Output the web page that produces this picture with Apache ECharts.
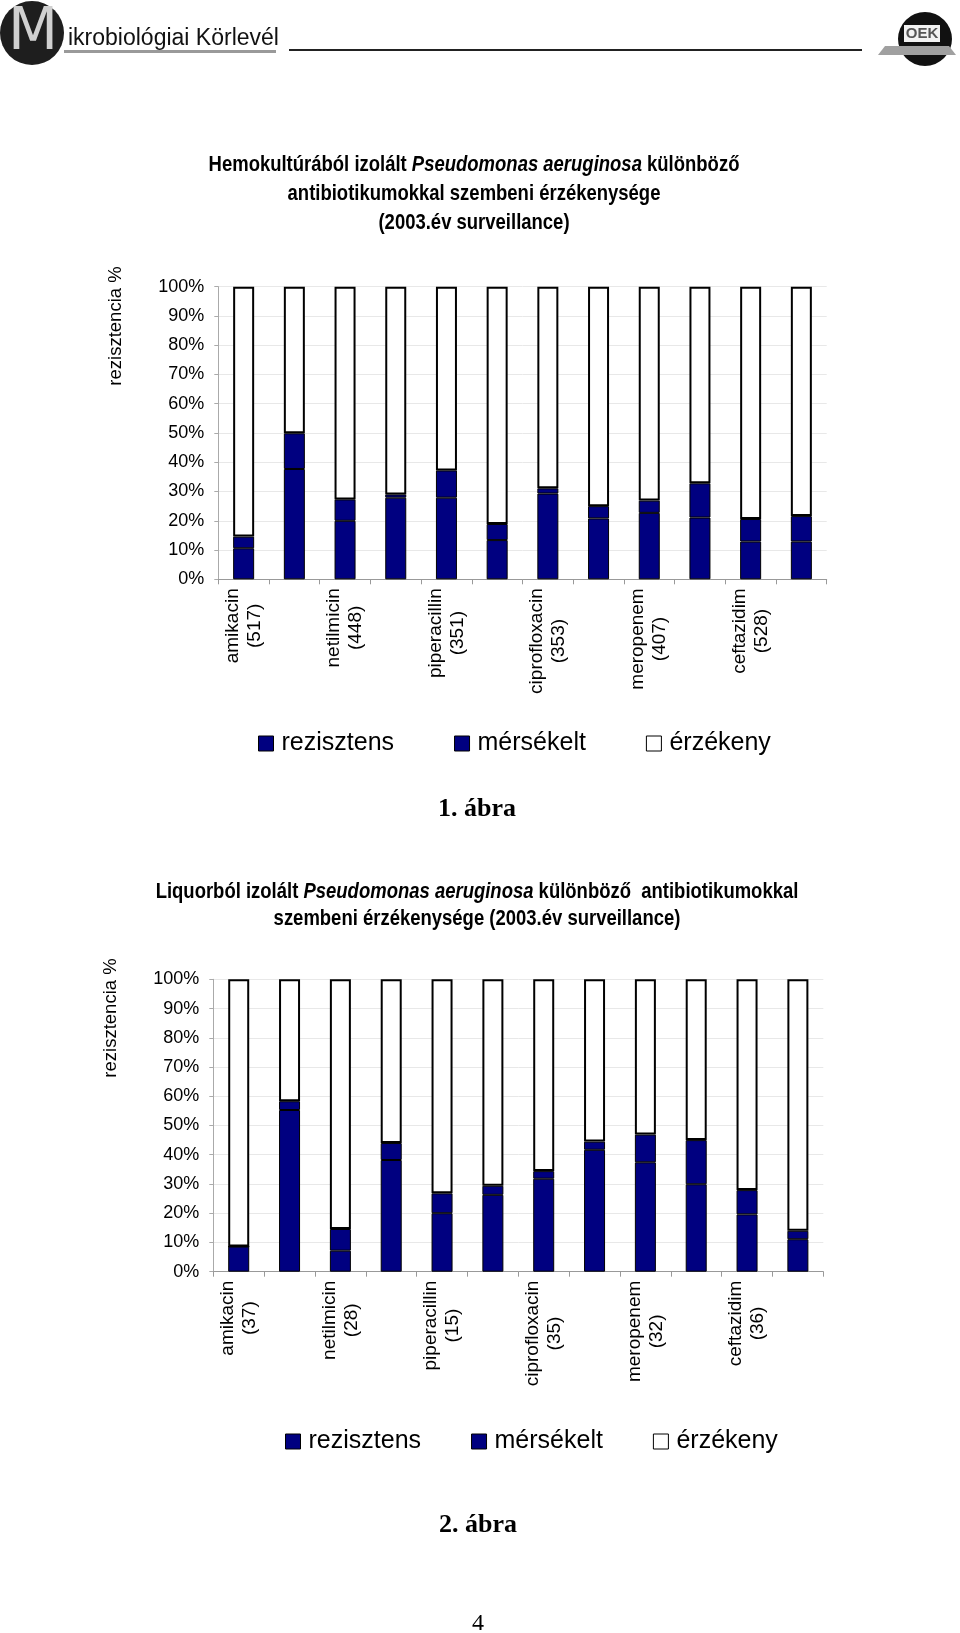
<!DOCTYPE html>
<html>
<head>
<meta charset="utf-8">
<script src="https://cdn.jsdelivr.net/npm/echarts@6.0.0/dist/echarts.min.js"></script>
<style>
  html, body { margin: 0; padding: 0; background: #fff; }
  #main { width: 960px; height: 1633px; }
</style>
</head>
<body>
<div id="main"></div>
<script>
// antibiotikumok (minden második felirat rejtve, mint az eredetin)
var names = ['amikacin', '', 'netilmicin', '', 'piperacillin', '', 'ciprofloxacin', '', 'meropenem', '', 'ceftazidim', ''];

// 1. ábra - hemokultúra
var counts1 = [517, null, 448, null, 351, null, 353, null, 407, null, 528, null];
var rez1  = [10.6, 37.7, 20.0, 27.9, 27.9, 13.4, 29.3, 20.8, 22.7, 21.1, 12.9, 12.9];
var mers1 = [4.0, 12.2, 7.3, 1.1, 9.3, 5.5, 1.8, 4.2, 4.2, 11.7, 7.7, 8.7];
var erz1  = [85.4, 50.1, 72.7, 71.0, 62.8, 81.1, 68.9, 75.0, 73.1, 67.2, 79.4, 78.4];

// 2. ábra - liquor
var counts2 = [37, null, 28, null, 15, null, 35, null, 32, null, 36, null];
var rez2  = [8.6, 55.3, 7.2, 38.2, 20.0, 26.3, 31.8, 41.7, 37.4, 29.9, 19.6, 11.1];
var mers2 = [0, 3.0, 7.4, 5.8, 6.8, 3.1, 2.6, 2.8, 9.5, 15.1, 8.3, 2.9];
var erz2  = [91.4, 41.7, 85.4, 56.0, 73.2, 70.6, 65.6, 55.5, 53.1, 55.0, 72.1, 86.0];

var legendNames = ['rezisztens', 'mérsékelt', 'érzékeny'];

var title1 = 'Hemokultúrából izolált {i|Pseudomonas aeruginosa} különböző\nantibiotikumokkal szembeni érzékenysége\n(2003.év surveillance)';
var title2 = 'Liquorból izolált {i|Pseudomonas aeruginosa} különböző  antibiotikumokkal\nszembeni érzékenysége (2003.év surveillance)';

var sans = "'Liberation Sans', Arial, sans-serif";
var navy = '#000080';

function catLabels(counts) {
  return names.map(function (n, i) { return n ? n + '\n(' + counts[i] + ')' : ''; });
}

function xAxisOf(gi, counts) {
  return {
    type: 'category', gridIndex: gi, data: catLabels(counts),
    axisLine: { lineStyle: { color: '#999', width: 1 } },
    axisTick: { show: true, length: 5, lineStyle: { color: '#999' } },
    axisLabel: {
      interval: 0, rotate: 90, align: 'right', verticalAlign: 'middle', margin: 9,
      fontFamily: sans, fontSize: 19, lineHeight: 22, color: '#000',
      formatter: function (v) {
        if (!v) return '';
        return v.split('\n').map(function (l) { return '{c|' + l + '}'; }).join('\n');
      },
      rich: { c: { align: 'center', fontFamily: sans, fontSize: 19, lineHeight: 22, color: '#000' } }
    },
    splitLine: { show: false }
  };
}

function yAxisOf(gi) {
  return {
    type: 'value', gridIndex: gi, min: 0, max: 100, interval: 10,
    axisLine: { show: true, lineStyle: { color: '#aaa' } },
    axisTick: { show: true, length: 4, lineStyle: { color: '#aaa' } },
    axisLabel: { formatter: '{value}%', fontFamily: sans, fontSize: 18, color: '#000', margin: 14 },
    splitLine: { show: true, lineStyle: { color: '#e8e8e8', width: 1 } }
  };
}

function barsOf(gi, rez, mers, erz) {
  var base = { type: 'bar', xAxisIndex: gi, yAxisIndex: gi, stack: 's' + gi, barWidth: 21 };
  return [
    Object.assign({ name: 'rezisztens', data: rez, itemStyle: { color: navy, borderColor: '#000', borderWidth: 1 } }, base),
    Object.assign({ name: 'mérsékelt', data: mers, itemStyle: { color: navy, borderColor: '#000', borderWidth: 1 } }, base),
    Object.assign({ name: 'érzékeny', data: erz, itemStyle: { color: '#fff', borderColor: '#000', borderWidth: 2 } }, base)
  ];
}

function legendOf(left, top, gap) {
  return {
    data: legendNames, left: left, top: top, padding: 0, icon: 'rect', itemWidth: 15, itemHeight: 15, itemGap: gap,
    selectedMode: false,
    itemStyle: { borderColor: '#000', borderWidth: 1 },
    textStyle: { fontFamily: sans, fontSize: 25, color: '#000', padding: [0, 0, 0, 3] }
  };
}

var chart = echarts.init(document.getElementById('main'));
chart.setOption({
  animation: false,
  backgroundColor: '#fff',
  grid: [
    { left: 218.3, top: 286.7, width: 608.4, height: 292.6, outerBoundsMode: 'none' },
    { left: 213.3, top: 979.3, width: 610, height: 292.4, outerBoundsMode: 'none' }
  ],
  xAxis: [xAxisOf(0, counts1), xAxisOf(1, counts2)],
  yAxis: [yAxisOf(0), yAxisOf(1)],
  legend: [legendOf(258, 731, 60), legendOf(285, 1429, 50)],
  series: barsOf(0, rez1, mers1, erz1).concat(barsOf(1, rez2, mers2, erz2)),
  graphic: [
    // fejléc
    { type: 'circle', shape: { cx: 32, cy: 33, r: 32 }, style: { fill: '#1e1e1e' } },
    { type: 'text', x: 33, y: 34, style: { text: 'M', font: '58px "DejaVu Sans"', fill: '#d0d0d0', align: 'center', verticalAlign: 'middle' } },
    { type: 'text', x: 68, y: 39, style: { text: 'ikrobiológiai Körlevél', font: '23px "Liberation Sans"', fill: '#111', align: 'left', verticalAlign: 'middle' } },
    { type: 'rect', shape: { x: 64, y: 50, width: 212, height: 3 }, style: { fill: '#9a9a9a' } },
    { type: 'line', shape: { x1: 289, y1: 50, x2: 862, y2: 50 }, style: { stroke: '#222', lineWidth: 2 } },
    { type: 'circle', shape: { cx: 925, cy: 39, r: 27 }, style: { fill: '#111' } },
    { type: 'rect', shape: { x: 904, y: 25, width: 36, height: 17 }, style: { fill: '#f2f2f2' } },
    { type: 'text', x: 922, y: 34, style: { text: 'OEK', font: 'bold 15px "Liberation Sans"', fill: '#555', align: 'center', verticalAlign: 'middle' } },
    { type: 'polygon', shape: { points: [[878, 55], [956, 55], [949, 46], [885, 46]] }, style: { fill: '#a0a0a0' } },
    // címek
    { type: 'text', x: 474, y: 151, scaleX: 0.84, style: {
        text: title1, font: 'bold 22px "Liberation Sans"', lineHeight: 28.7, align: 'center', verticalAlign: 'top', fill: '#000',
        rich: { i: { font: 'italic bold 22px "Liberation Sans"', fontStyle: 'italic', fontWeight: 'bold', fontSize: 22, lineHeight: 28.7 } } } },
    { type: 'text', x: 477, y: 878.5, scaleX: 0.84, style: {
        text: title2, font: 'bold 22px "Liberation Sans"', lineHeight: 27, align: 'center', verticalAlign: 'top', fill: '#000',
        rich: { i: { font: 'italic bold 22px "Liberation Sans"', fontStyle: 'italic', fontWeight: 'bold', fontSize: 22, lineHeight: 27 } } } },
    // tengelynevek
    { type: 'text', x: 116, y: 326, rotation: Math.PI / 2, style: { text: 'rezisztencia %', font: '18.5px "Liberation Sans"', fill: '#000', align: 'center', verticalAlign: 'middle' } },
    { type: 'text', x: 111, y: 1018, rotation: Math.PI / 2, style: { text: 'rezisztencia %', font: '18.5px "Liberation Sans"', fill: '#000', align: 'center', verticalAlign: 'middle' } },
    // ábraszámok, oldalszám
    { type: 'text', x: 477, y: 809, style: { text: '1. ábra', font: 'bold 26px "Liberation Serif"', fill: '#000', align: 'center', verticalAlign: 'middle' } },
    { type: 'text', x: 478, y: 1525, style: { text: '2. ábra', font: 'bold 26px "Liberation Serif"', fill: '#000', align: 'center', verticalAlign: 'middle' } },
    { type: 'text', x: 478, y: 1624, style: { text: '4', font: '24px "Liberation Serif"', fill: '#000', align: 'center', verticalAlign: 'middle' } }
  ]
});
</script>
</body>
</html>
